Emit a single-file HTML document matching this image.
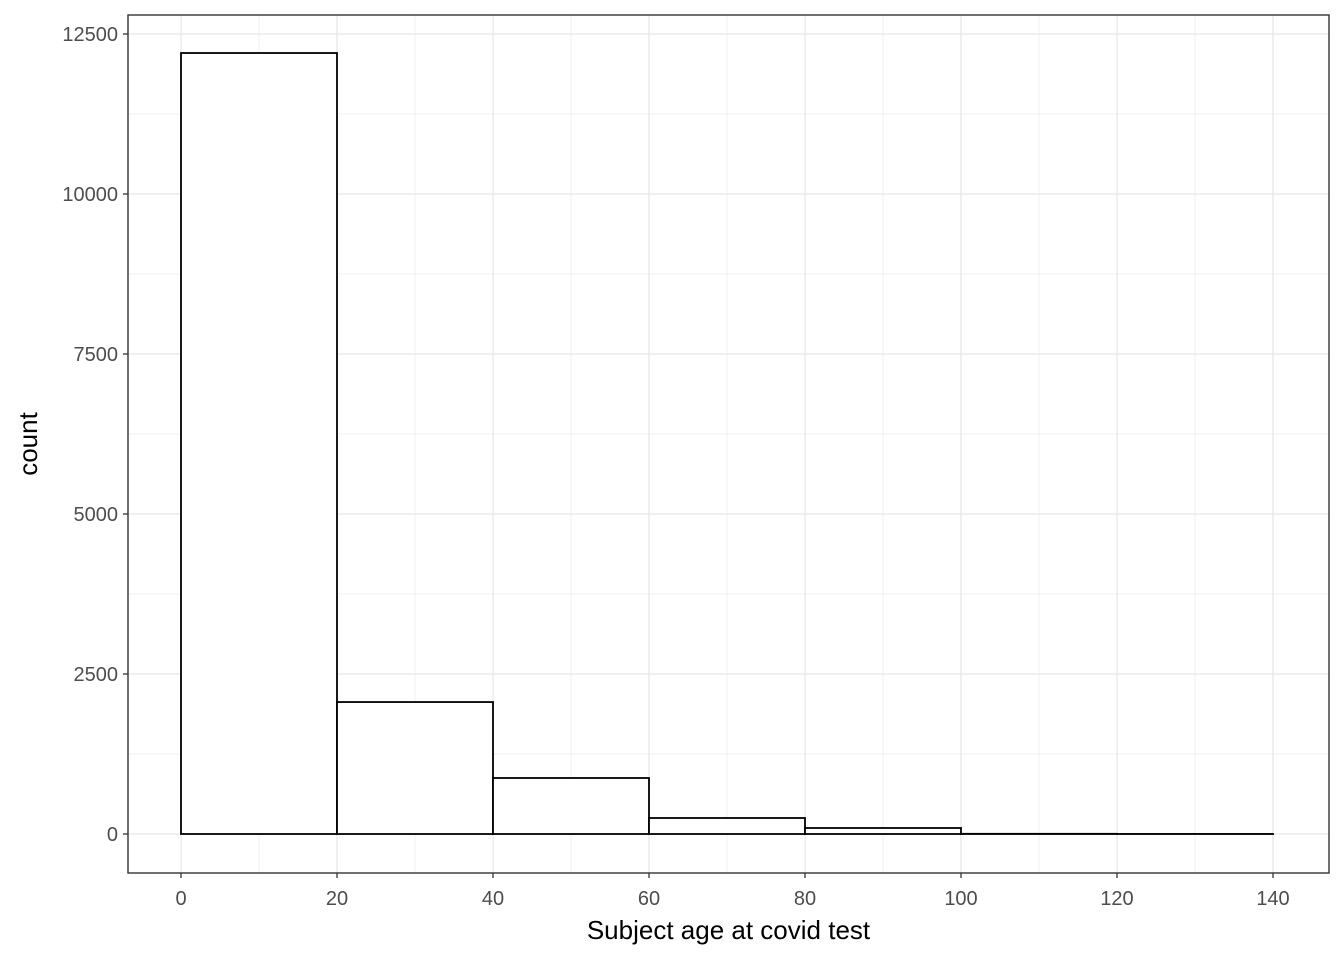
<!DOCTYPE html>
<html><head><meta charset="utf-8"><style>body{margin:0;background:#fff}svg{display:block;font-family:"Liberation Sans",Arial,sans-serif}</style></head>
<body>
<svg id="chart" width="1344" height="960" xmlns="http://www.w3.org/2000/svg"></svg>
<script>
const binStarts=[0,20,40,60,80,100,120];
const counts=[12203,2062,875,250,94,3,1];
const xTicks=[0,20,40,60,80,100,120,140];
const yTicks=[0,2500,5000,7500,10000,12500];
const binWidth=20;
const NS="http://www.w3.org/2000/svg";
const svg=document.getElementById('chart');
const L=128,R=1329,T=15,B=873;
const xs=v=>181+(v-0)*(1273-181)/140;
const ys=v=>834-v*(834-34)/12500;
function el(t,a,p){const e=document.createElementNS(NS,t);for(const k in a)e.setAttribute(k,a[k]);(p||svg).appendChild(e);return e;}
const grid=el('g',{});


for(let i=0;i<yTicks.length;i++){
  const v=yTicks[i];
  el('line',{x1:L,x2:R,y1:ys(v),y2:ys(v),stroke:'#e6e6e6','stroke-width':1.3},grid);
  if(i<yTicks.length-1){const m=(v+yTicks[i+1])/2;el('line',{x1:L,x2:R,y1:ys(m),y2:ys(m),stroke:'#ebebeb','stroke-width':0.7},grid);}
}
for(let i=0;i<xTicks.length;i++){
  const v=xTicks[i];
  el('line',{y1:T,y2:B,x1:xs(v),x2:xs(v),stroke:'#e6e6e6','stroke-width':1.3},grid);
  if(i<xTicks.length-1){const m=(v+xTicks[i+1])/2;el('line',{y1:T,y2:B,x1:xs(m),x2:xs(m),stroke:'#ebebeb','stroke-width':0.7},grid);}
}
for(let i=0;i<counts.length;i++){
  const x0=xs(binStarts[i]),x1=xs(binStarts[i]+binWidth),y=ys(counts[i]);
  const r=el('rect',{x:x0,y:y,width:x1-x0,height:ys(0)-y,fill:'#fff',stroke:'#000','stroke-width':1.8});
  
  
}
const frame=el('rect',{x:L,y:T,width:R-L,height:B-T,fill:'none',stroke:'#333','stroke-width':1.4});


for(const v of yTicks){
  el('line',{x1:L-5,x2:L,y1:ys(v),y2:ys(v),stroke:'#333','stroke-width':1.3});
  const t=el('text',{x:L-10,y:ys(v)+7,'text-anchor':'end','font-size':20,fill:'#4d4d4d'});t.textContent=v;
  
  
}
for(const v of xTicks){
  el('line',{y1:B,y2:B+5,x1:xs(v),x2:xs(v),stroke:'#333','stroke-width':1.3});
  const t=el('text',{x:xs(v),y:B+32,'text-anchor':'middle','font-size':20,fill:'#4d4d4d'});t.textContent=v;
  
  
}
const xt=el('text',{x:(L+R)/2,y:939,'text-anchor':'middle','font-size':26,fill:'#000'});xt.textContent='Subject age at covid test';


const yt=el('text',{x:0,y:0,'text-anchor':'middle','font-size':26,fill:'#000',transform:'translate(37,'+((T+B)/2)+') rotate(-90)'});yt.textContent='count';


</script>
</body></html>
